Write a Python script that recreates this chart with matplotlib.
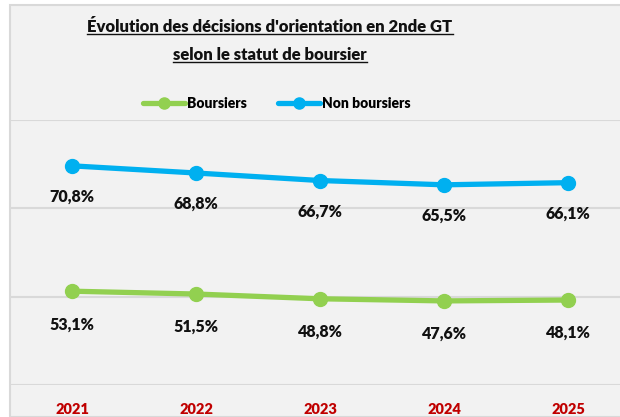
import matplotlib
matplotlib.use("Agg")
import matplotlib.pyplot as plt
from matplotlib.lines import Line2D
from matplotlib.patches import Rectangle

years = ["2021", "2022", "2023", "2024", "2025"]
boursiers = [53.1, 51.5, 48.8, 47.6, 48.1]
non_boursiers = [70.8, 68.8, 66.7, 65.5, 66.1]

green = "#92D050"
blue = "#00B0F0"
red = "#C00000"
grid_col = "#D9D9D9"

plt.rcParams["font.family"] = ["Lato", "DejaVu Sans"]
plt.rcParams["font.weight"] = "heavy"

W, H = 620, 417
fig = plt.figure(figsize=(W / 100, H / 100), dpi=100, facecolor="white")

# chart area background + border
bg = Rectangle((10 / W, 0), 1, 1 - 5 / H, transform=fig.transFigure,
               facecolor="#F2F2F2", edgecolor=grid_col, linewidth=1.5, zorder=-5)
fig.add_artist(bg)

ax = fig.add_axes([10 / W, 32 / H, 620 / W, 265 / H])
ax.set_facecolor("none")
ax2 = ax.twinx()
ax2.set_facecolor("none")

x = list(range(len(years)))
l1, = ax.plot(x, boursiers, color=green, lw=3.8, marker="o", ms=10, solid_capstyle="round", zorder=3)
l2, = ax2.plot(x, non_boursiers, color=blue, lw=3.8, marker="o", ms=10, solid_capstyle="round", zorder=3)

ax.set_ylim(0, 150)
ax.set_yticks([0, 50, 100, 150])
ax2.set_ylim(9.6, 83.6)
ax.set_xlim(-0.5, 4.5)
ax.grid(axis="y", color=grid_col, lw=1.5)
ax.set_axisbelow(True)

for a in (ax, ax2):
    for s in a.spines.values():
        s.set_visible(False)
    a.tick_params(axis="y", left=False, right=False, labelleft=False, labelright=False)

ax.set_xticks(x, years)
ax.tick_params(axis="x", length=0, pad=13, labelsize=10.5, labelcolor=red)

for i, v in enumerate(boursiers):
    ax.annotate(f"{v:.1f}%".replace(".", ","), (i, v), xytext=(0, -33), textcoords="offset pixels",
                ha="center", va="center", fontsize=11.5, color="#111111")
for i, v in enumerate(non_boursiers):
    ax2.annotate(f"{v:.1f}%".replace(".", ","), (i, v), xytext=(0, -31), textcoords="offset pixels",
                 ha="center", va="center", fontsize=11.5, color="#111111")

# title, two underlined lines
t1 = fig.text(270 / W, 1 - 27 / H, "Évolution des décisions d'orientation en 2nde GT",
              ha="center", va="center", fontsize=12, color="#111111")
t2 = fig.text(270 / W, 1 - 55 / H, "selon le statut de boursier",
              ha="center", va="center", fontsize=12, color="#111111")

leg = fig.legend([l1, l2], ["Boursiers", "Non boursiers"], loc="center", ncol=2,
                 bbox_to_anchor=(277 / W, 1 - 103 / H), frameon=False, fontsize=10,
                 handlelength=3, handletextpad=0.2, columnspacing=2.2)
for h in leg.legend_handles:
    h.set_markersize(8)

fig.canvas.draw()
r = fig.canvas.get_renderer()
for t in (t1, t2):
    bb = t.get_window_extent(r)
    y = bb.y0 + 1
    fig.add_artist(Line2D([bb.x0 / W, bb.x1 / W], [y / H, y / H], transform=fig.transFigure,
                          color="#111111", lw=1))

fig.savefig("out.png", dpi=100, facecolor="white")
